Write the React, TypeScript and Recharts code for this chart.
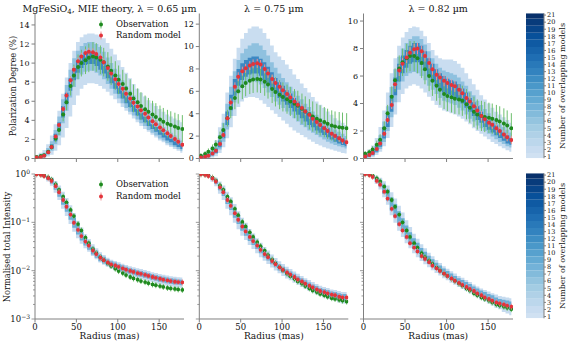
import { ComposedChart, Area, Bar, Line, XAxis, YAxis, ErrorBar, Legend } from "recharts";

const SERIF = '"DejaVu Serif", serif';
const AXIS = "#808080";
const INK = "#111";
const GREEN = "#1f8a1f";
const GREEN_BAR = "#6dbf6d";
const RED = "#e3343b";
const RED_BAR = "#f29095";
const BAND_TOP = ["#c9ddf0", "#8fc1df", "#3c88c3"];
const BAND_LOG = ["#c6dbef", "#6aaed6"];

// radius grid (mas)
const RADIUS = [2, 7, 11, 16, 20, 25, 29, 34, 38, 43, 47, 52, 56, 61, 65, 70, 74, 79, 83, 88, 92, 97, 101, 106, 110, 115, 119, 124, 128, 133, 137, 142, 146, 151, 155, 160, 164, 169, 173, 178];
const X_TICKS = [0, 50, 100, 150];

// polarization degree (%) -- lambda = 0.65
const POL065_OBS = [0.15, 0.25, 0.35, 0.7, 1.2, 2.1, 3.0, 4.6, 5.9, 7.6, 8.7, 9.6, 10.0, 10.3, 10.55, 10.7, 10.6, 10.35, 10.1, 9.65, 9.2, 8.7, 8.25, 7.8, 7.35, 6.8, 6.3, 5.9, 5.5, 5.15, 4.9, 4.6, 4.35, 4.1, 3.85, 3.65, 3.5, 3.35, 3.2, 3.1];
const POL065_OBS_ERR = [0.1, 0.1, 0.15, 0.2, 0.3, 0.4, 0.55, 0.7, 0.85, 1.0, 1.15, 1.3, 1.4, 1.45, 1.5, 1.5, 1.5, 1.5, 1.5, 1.5, 1.5, 1.5, 1.5, 1.5, 1.5, 1.5, 1.45, 1.45, 1.45, 1.45, 1.45, 1.45, 1.45, 1.45, 1.45, 1.45, 1.45, 1.45, 1.45, 1.45];
const POL065_MOD = [0.1, 0.15, 0.3, 0.65, 1.2, 2.3, 3.5, 5.2, 6.6, 8.2, 9.3, 10.2, 10.7, 11.05, 11.2, 11.15, 10.95, 10.6, 10.1, 9.5, 8.9, 8.3, 7.8, 7.3, 6.8, 6.3, 5.85, 5.45, 5.05, 4.7, 4.3, 3.9, 3.6, 3.25, 2.95, 2.65, 2.35, 2.05, 1.75, 1.45];
const POL065_OUT_LO = [0, 0, 0.05, 0.2, 0.4, 0.8, 1.4, 2.2, 3.2, 4.4, 5.6, 6.6, 7.3, 7.7, 7.9, 7.9, 7.8, 7.6, 7.3, 7.0, 6.6, 6.2, 5.8, 5.4, 5.0, 4.6, 4.2, 3.8, 3.4, 3.1, 2.8, 2.5, 2.2, 1.9, 1.7, 1.4, 1.2, 1.0, 0.8, 0.6];
const POL065_OUT_HI = [0.4, 0.6, 0.9, 1.5, 2.4, 3.6, 5.0, 6.8, 8.5, 10.0, 11.3, 12.2, 12.7, 13.0, 13.1, 13.1, 13.0, 12.9, 12.6, 12.1, 11.5, 10.9, 10.3, 9.6, 9.0, 8.4, 7.8, 7.3, 6.9, 6.5, 6.1, 5.8, 5.5, 5.2, 4.9, 4.6, 4.4, 4.2, 4.0, 3.8];
const POL065_MID_LO = [0.02, 0.05, 0.15, 0.4, 0.8, 1.5, 2.4, 3.7, 5.0, 6.4, 7.5, 8.3, 8.8, 9.1, 9.2, 9.2, 9.0, 8.7, 8.3, 7.8, 7.3, 6.8, 6.3, 5.8, 5.3, 4.9, 4.5, 4.1, 3.7, 3.4, 3.0, 2.7, 2.4, 2.1, 1.9, 1.6, 1.4, 1.2, 1.0, 0.8];
const POL065_MID_HI = [0.25, 0.4, 0.6, 1.1, 1.8, 3.0, 4.4, 6.2, 7.7, 9.3, 10.5, 11.3, 11.8, 12.1, 12.2, 12.2, 12.0, 11.7, 11.2, 10.6, 10.0, 9.4, 8.8, 8.2, 7.6, 7.1, 6.6, 6.1, 5.6, 5.2, 4.8, 4.4, 4.0, 3.7, 3.3, 3.0, 2.7, 2.4, 2.1, 1.9];
const POL065_CORE_LO = [0.05, 0.1, 0.2, 0.5, 1.0, 1.8, 2.9, 4.3, 5.7, 7.1, 8.2, 9.0, 9.5, 9.8, 9.9, 9.9, 9.7, 9.3, 8.9, 8.4, 7.9, 7.3, 6.8, 6.3, 5.8, 5.4, 4.9, 4.5, 4.1, 3.8, 3.4, 3.1, 2.8, 2.5, 2.2, 1.9, 1.7, 1.4, 1.2, 1.0];
const POL065_CORE_HI = [0.15, 0.25, 0.45, 0.85, 1.5, 2.6, 3.8, 5.5, 6.9, 8.4, 9.5, 10.3, 10.8, 11.1, 11.2, 11.1, 10.9, 10.5, 10.0, 9.4, 8.8, 8.2, 7.6, 7.1, 6.6, 6.1, 5.6, 5.2, 4.8, 4.4, 4.0, 3.6, 3.3, 3.0, 2.7, 2.4, 2.1, 1.9, 1.6, 1.4];

// lambda = 0.75
const POL075_OBS = [0.25, 0.4, 0.6, 0.9, 1.25, 1.9, 2.55, 3.6, 4.5, 5.4, 6.0, 6.45, 6.75, 6.95, 7.05, 7.1, 7.05, 6.85, 6.6, 6.2, 5.95, 5.7, 5.5, 5.3, 5.1, 4.9, 4.7, 4.45, 4.2, 3.95, 3.75, 3.55, 3.4, 3.25, 3.1, 2.95, 2.85, 2.8, 2.75, 2.7];
const POL075_OBS_ERR = [0.2, 0.25, 0.3, 0.35, 0.4, 0.5, 0.6, 0.75, 0.9, 1.0, 1.1, 1.15, 1.2, 1.2, 1.2, 1.2, 1.2, 1.25, 1.25, 1.25, 1.3, 1.3, 1.3, 1.3, 1.3, 1.3, 1.35, 1.35, 1.35, 1.35, 1.35, 1.35, 1.35, 1.35, 1.35, 1.35, 1.35, 1.35, 1.35, 1.35];
const POL075_MOD = [0.1, 0.15, 0.25, 0.45, 0.7, 1.3, 2.1, 3.6, 5.0, 6.4, 7.3, 7.8, 8.05, 8.3, 8.45, 8.5, 8.4, 8.0, 7.6, 7.1, 6.75, 6.4, 6.1, 5.75, 5.45, 5.1, 4.8, 4.5, 4.2, 3.9, 3.55, 3.25, 3.0, 2.7, 2.45, 2.2, 2.0, 1.8, 1.6, 1.45];
const POL075_OUT_LO = [0, 0, 0.02, 0.1, 0.2, 0.5, 1.0, 1.8, 2.8, 3.8, 4.6, 5.1, 5.4, 5.5, 5.5, 5.4, 5.2, 4.9, 4.6, 4.3, 4.0, 3.7, 3.4, 3.1, 2.8, 2.5, 2.3, 2.1, 1.9, 1.7, 1.5, 1.3, 1.15, 1.0, 0.9, 0.8, 0.7, 0.6, 0.5, 0.45];
const POL075_OUT_HI = [0.35, 0.5, 0.7, 1.1, 1.6, 2.8, 4.0, 5.9, 7.4, 8.9, 9.9, 10.7, 11.2, 11.6, 11.8, 11.8, 11.6, 11.2, 10.7, 10.1, 9.5, 9.1, 8.8, 8.4, 8.0, 7.5, 7.1, 6.7, 6.3, 5.9, 5.5, 5.1, 4.8, 4.5, 4.2, 3.9, 3.6, 3.4, 3.2, 3.0];
const POL075_MID_LO = [0.02, 0.05, 0.1, 0.2, 0.4, 0.8, 1.5, 2.6, 3.8, 5.0, 5.8, 6.3, 6.6, 6.8, 6.9, 6.8, 6.6, 6.3, 5.9, 5.5, 5.1, 4.8, 4.5, 4.2, 3.9, 3.6, 3.3, 3.0, 2.8, 2.5, 2.3, 2.1, 1.9, 1.7, 1.5, 1.35, 1.2, 1.1, 1.0, 0.9];
const POL075_MID_HI = [0.25, 0.35, 0.5, 0.8, 1.2, 2.1, 3.2, 4.9, 6.4, 7.8, 8.8, 9.4, 9.8, 10.1, 10.3, 10.3, 10.1, 9.7, 9.2, 8.6, 8.1, 7.6, 7.2, 6.8, 6.4, 6.0, 5.6, 5.3, 4.9, 4.6, 4.2, 3.9, 3.6, 3.3, 3.1, 2.8, 2.6, 2.4, 2.2, 2.0];
const POL075_CORE_LO = [0.05, 0.08, 0.15, 0.3, 0.5, 1.0, 1.8, 3.0, 4.3, 5.6, 6.5, 7.0, 7.3, 7.5, 7.6, 7.6, 7.4, 7.0, 6.6, 6.2, 5.8, 5.4, 5.1, 4.8, 4.5, 4.2, 3.9, 3.6, 3.3, 3.0, 2.8, 2.5, 2.3, 2.1, 1.9, 1.7, 1.5, 1.35, 1.2, 1.1];
const POL075_CORE_HI = [0.15, 0.25, 0.35, 0.6, 0.9, 1.6, 2.6, 4.2, 5.7, 7.1, 8.0, 8.5, 8.8, 9.0, 9.1, 9.1, 8.9, 8.6, 8.2, 7.7, 7.2, 6.8, 6.5, 6.1, 5.8, 5.4, 5.1, 4.7, 4.4, 4.1, 3.8, 3.5, 3.2, 2.9, 2.7, 2.4, 2.2, 2.0, 1.8, 1.6];

// lambda = 0.82
const POL082_OBS = [0.34, 0.45, 0.65, 1.0, 1.36, 2.2, 3.3, 4.5, 5.7, 6.55, 7.0, 7.3, 7.45, 7.45, 7.3, 6.95, 6.5, 6.0, 5.65, 5.3, 5.0, 4.7, 4.55, 4.45, 4.35, 4.3, 4.2, 3.95, 3.7, 3.4, 3.2, 3.1, 3.02, 2.96, 2.9, 2.8, 2.7, 2.55, 2.4, 2.2];
const POL082_OBS_ERR = [0.2, 0.2, 0.25, 0.3, 0.4, 0.5, 0.6, 0.75, 0.85, 0.95, 1.0, 1.05, 1.1, 1.1, 1.1, 1.1, 1.1, 1.1, 1.1, 1.1, 1.1, 1.1, 1.1, 1.1, 1.1, 1.1, 1.1, 1.1, 1.1, 1.1, 1.1, 1.1, 1.1, 1.1, 1.1, 1.1, 1.1, 1.1, 1.1, 1.1];
const POL082_MOD = [0.15, 0.25, 0.4, 0.7, 1.1, 1.8, 2.8, 3.9, 5.4, 6.4, 6.9, 7.35, 7.7, 7.95, 8.0, 7.8, 7.45, 6.95, 6.5, 6.1, 5.9, 5.65, 5.5, 5.35, 5.25, 5.0, 4.75, 4.4, 4.15, 3.8, 3.5, 3.1, 2.85, 2.6, 2.45, 2.2, 2.0, 1.75, 1.55, 1.35];
const POL082_OUT_LO = [0, 0.02, 0.1, 0.25, 0.5, 0.9, 1.5, 2.3, 3.2, 4.1, 4.7, 5.1, 5.3, 5.4, 5.3, 5.1, 4.8, 4.5, 4.2, 3.9, 3.7, 3.5, 3.4, 3.3, 3.2, 3.05, 2.9, 2.7, 2.5, 2.2, 2.0, 1.8, 1.6, 1.4, 1.2, 1.05, 0.9, 0.75, 0.6, 0.5];
const POL082_OUT_HI = [0.45, 0.65, 0.95, 1.5, 2.3, 3.5, 4.8, 6.2, 7.3, 8.2, 8.8, 9.2, 9.5, 9.6, 9.55, 9.3, 8.9, 8.4, 7.9, 7.5, 7.3, 7.2, 7.2, 7.2, 7.1, 6.9, 6.6, 6.2, 5.8, 5.4, 5.0, 4.6, 4.3, 4.0, 3.7, 3.4, 3.2, 3.0, 2.8, 2.6];
const POL082_MID_LO = [0.05, 0.1, 0.2, 0.4, 0.7, 1.2, 2.0, 3.0, 4.1, 5.0, 5.6, 6.0, 6.2, 6.3, 6.2, 6.0, 5.7, 5.3, 5.0, 4.7, 4.4, 4.2, 4.1, 4.0, 3.9, 3.7, 3.5, 3.2, 2.9, 2.7, 2.4, 2.2, 2.0, 1.8, 1.6, 1.4, 1.2, 1.05, 0.9, 0.8];
const POL082_MID_HI = [0.3, 0.45, 0.7, 1.1, 1.7, 2.7, 3.8, 5.2, 6.5, 7.4, 8.0, 8.4, 8.7, 8.9, 8.9, 8.7, 8.3, 7.8, 7.3, 6.9, 6.6, 6.4, 6.3, 6.2, 6.1, 5.9, 5.6, 5.3, 4.9, 4.6, 4.2, 3.9, 3.6, 3.3, 3.0, 2.8, 2.5, 2.3, 2.1, 1.9];
const POL082_CORE_LO = [0.08, 0.15, 0.28, 0.5, 0.85, 1.45, 2.3, 3.4, 4.6, 5.6, 6.2, 6.6, 6.9, 7.0, 7.0, 6.8, 6.4, 6.0, 5.6, 5.3, 5.0, 4.8, 4.7, 4.6, 4.4, 4.2, 4.0, 3.7, 3.4, 3.1, 2.8, 2.6, 2.3, 2.1, 1.9, 1.7, 1.5, 1.3, 1.1, 1.0];
const POL082_CORE_HI = [0.22, 0.35, 0.55, 0.9, 1.4, 2.3, 3.3, 4.6, 5.9, 6.9, 7.5, 7.9, 8.2, 8.4, 8.4, 8.2, 7.8, 7.3, 6.9, 6.5, 6.2, 6.0, 5.8, 5.7, 5.6, 5.4, 5.1, 4.8, 4.4, 4.1, 3.8, 3.4, 3.1, 2.8, 2.6, 2.4, 2.1, 1.9, 1.7, 1.5];

// random-model error, shared by the three polarization panels
const POL_MOD_ERR = [0.05, 0.05, 0.1, 0.1, 0.15, 0.2, 0.25, 0.3, 0.35, 0.4, 0.4, 0.4, 0.4, 0.4, 0.4, 0.4, 0.4, 0.4, 0.4, 0.4, 0.4, 0.4, 0.4, 0.4, 0.4, 0.4, 0.35, 0.35, 0.35, 0.35, 0.35, 0.35, 0.3, 0.3, 0.3, 0.3, 0.3, 0.3, 0.3, 0.3];

// normalised total intensity -- lambda = 0.65
const INT065_OBS = [0.99, 0.97, 0.93, 0.85, 0.76, 0.61, 0.47, 0.34, 0.26, 0.18, 0.135, 0.092, 0.068, 0.048, 0.037, 0.028, 0.023, 0.019, 0.0165, 0.0143, 0.0125, 0.011, 0.0098, 0.0089, 0.0081, 0.0074, 0.0069, 0.0065, 0.0061, 0.0058, 0.0055, 0.0052, 0.005, 0.0048, 0.0046, 0.0044, 0.0043, 0.0042, 0.0041, 0.004];
const INT065_MOD = [0.99, 0.96, 0.91, 0.82, 0.72, 0.56, 0.42, 0.29, 0.21, 0.145, 0.098, 0.07, 0.052, 0.04, 0.033, 0.026, 0.022, 0.0185, 0.0165, 0.0148, 0.0135, 0.0128, 0.012, 0.0112, 0.0105, 0.0099, 0.0094, 0.0089, 0.0086, 0.0082, 0.0078, 0.0074, 0.0071, 0.0068, 0.0065, 0.0063, 0.0061, 0.0059, 0.0058, 0.0057];
const INT065_OUT_LO = [0.97, 0.92, 0.84, 0.7, 0.57, 0.41, 0.29, 0.19, 0.135, 0.092, 0.064, 0.047, 0.036, 0.029, 0.0245, 0.02, 0.0172, 0.0148, 0.0133, 0.012, 0.011, 0.0102, 0.0096, 0.0089, 0.0083, 0.0078, 0.0074, 0.007, 0.0067, 0.0064, 0.0061, 0.0058, 0.0055, 0.0053, 0.0051, 0.0049, 0.0047, 0.0046, 0.0045, 0.0044];
const INT065_OUT_HI = [1.0, 1.0, 0.97, 0.92, 0.86, 0.72, 0.58, 0.43, 0.32, 0.225, 0.155, 0.108, 0.078, 0.057, 0.045, 0.035, 0.029, 0.024, 0.021, 0.0186, 0.0169, 0.0158, 0.0149, 0.0139, 0.0131, 0.0124, 0.0118, 0.0112, 0.0108, 0.0103, 0.0098, 0.0093, 0.0089, 0.0085, 0.0082, 0.0079, 0.0077, 0.0075, 0.0073, 0.0072];
const INT065_IN_LO = [0.98, 0.94, 0.87, 0.75, 0.63, 0.47, 0.34, 0.23, 0.165, 0.113, 0.077, 0.056, 0.042, 0.033, 0.027, 0.0216, 0.0185, 0.0157, 0.0141, 0.0127, 0.0117, 0.011, 0.0103, 0.0097, 0.0091, 0.0086, 0.0082, 0.0077, 0.0075, 0.0071, 0.0068, 0.0064, 0.0062, 0.0059, 0.0057, 0.0055, 0.0053, 0.0052, 0.0051, 0.005];
const INT065_IN_HI = [1.0, 0.99, 0.95, 0.89, 0.81, 0.66, 0.51, 0.36, 0.265, 0.185, 0.125, 0.088, 0.064, 0.049, 0.04, 0.0312, 0.026, 0.0217, 0.0193, 0.0172, 0.0156, 0.0147, 0.0138, 0.0129, 0.0121, 0.0114, 0.0108, 0.0102, 0.0098, 0.0094, 0.0089, 0.0085, 0.0081, 0.0078, 0.0075, 0.0072, 0.007, 0.0068, 0.0066, 0.0065];

// lambda = 0.75
const INT075_OBS = [0.99, 0.97, 0.93, 0.84, 0.73, 0.58, 0.47, 0.34, 0.27, 0.19, 0.14, 0.102, 0.082, 0.062, 0.05, 0.039, 0.032, 0.026, 0.021, 0.017, 0.0142, 0.0118, 0.0102, 0.0087, 0.0077, 0.0068, 0.006, 0.0054, 0.0048, 0.0043, 0.0039, 0.0036, 0.0033, 0.0031, 0.0029, 0.0027, 0.0026, 0.0025, 0.0024, 0.0023];
const INT075_MOD = [0.99, 0.96, 0.91, 0.81, 0.7, 0.53, 0.42, 0.29, 0.22, 0.155, 0.113, 0.082, 0.065, 0.05, 0.041, 0.033, 0.027, 0.022, 0.019, 0.0158, 0.0136, 0.0117, 0.0104, 0.0092, 0.0083, 0.0074, 0.0066, 0.006, 0.0054, 0.0049, 0.0045, 0.0041, 0.0038, 0.0036, 0.0034, 0.0032, 0.0031, 0.0029, 0.0028, 0.0028];
const INT075_OUT_LO = [0.97, 0.92, 0.84, 0.69, 0.56, 0.39, 0.29, 0.19, 0.14, 0.098, 0.072, 0.053, 0.043, 0.034, 0.028, 0.023, 0.019, 0.016, 0.0138, 0.0116, 0.0101, 0.0088, 0.0078, 0.0069, 0.0063, 0.0056, 0.0051, 0.0046, 0.0042, 0.0038, 0.0035, 0.0032, 0.003, 0.0028, 0.0026, 0.0025, 0.0024, 0.0022, 0.0021, 0.0021];
const INT075_OUT_HI = [1.0, 1.0, 0.97, 0.91, 0.84, 0.7, 0.58, 0.43, 0.33, 0.24, 0.17, 0.125, 0.098, 0.073, 0.059, 0.047, 0.038, 0.031, 0.026, 0.0215, 0.0183, 0.0156, 0.0137, 0.0121, 0.0108, 0.0096, 0.0086, 0.0078, 0.007, 0.0064, 0.0058, 0.0053, 0.0049, 0.0046, 0.0044, 0.0041, 0.004, 0.0038, 0.0036, 0.0036];
const INT075_IN_LO = [0.98, 0.94, 0.88, 0.75, 0.62, 0.46, 0.35, 0.24, 0.18, 0.125, 0.092, 0.067, 0.053, 0.041, 0.034, 0.028, 0.023, 0.0188, 0.0162, 0.0135, 0.0117, 0.0101, 0.0089, 0.0079, 0.0071, 0.0064, 0.0057, 0.0052, 0.0047, 0.0042, 0.0039, 0.0035, 0.0033, 0.0031, 0.0029, 0.0028, 0.0027, 0.0025, 0.0024, 0.0024];
const INT075_IN_HI = [1.0, 0.99, 0.95, 0.87, 0.78, 0.61, 0.5, 0.35, 0.27, 0.19, 0.138, 0.1, 0.079, 0.061, 0.049, 0.039, 0.032, 0.0258, 0.0222, 0.0185, 0.0158, 0.0136, 0.0121, 0.0107, 0.0096, 0.0086, 0.0077, 0.007, 0.0063, 0.0057, 0.0052, 0.0048, 0.0044, 0.0042, 0.004, 0.0037, 0.0036, 0.0034, 0.0033, 0.0033];

// lambda = 0.82
const INT082_OBS = [0.995, 0.97, 0.92, 0.81, 0.7, 0.55, 0.43, 0.29, 0.21, 0.145, 0.1, 0.068, 0.05, 0.037, 0.03, 0.023, 0.019, 0.0162, 0.0138, 0.0116, 0.0101, 0.0087, 0.0078, 0.0068, 0.0061, 0.0054, 0.0049, 0.0043, 0.0039, 0.0034, 0.0031, 0.0028, 0.0026, 0.0024, 0.0022, 0.002, 0.0019, 0.0018, 0.0017, 0.0016];
const INT082_MOD = [0.99, 0.95, 0.87, 0.72, 0.6, 0.43, 0.31, 0.19, 0.135, 0.092, 0.068, 0.05, 0.037, 0.03, 0.025, 0.02, 0.0175, 0.015, 0.0127, 0.0112, 0.0099, 0.0087, 0.0078, 0.0069, 0.0062, 0.0056, 0.0051, 0.0046, 0.0042, 0.0038, 0.0034, 0.0031, 0.0028, 0.0026, 0.0024, 0.0022, 0.0021, 0.002, 0.0019, 0.0018];
const INT082_OUT_LO = [0.97, 0.91, 0.8, 0.62, 0.48, 0.33, 0.23, 0.14, 0.098, 0.067, 0.05, 0.037, 0.029, 0.023, 0.019, 0.0158, 0.0136, 0.0118, 0.0102, 0.0089, 0.0079, 0.007, 0.0063, 0.0056, 0.0051, 0.0046, 0.0042, 0.0038, 0.0034, 0.0031, 0.0028, 0.0025, 0.0023, 0.0021, 0.0019, 0.0017, 0.0016, 0.0014, 0.0013, 0.0012];
const INT082_OUT_HI = [1.0, 1.0, 0.98, 0.92, 0.84, 0.71, 0.58, 0.42, 0.31, 0.22, 0.16, 0.11, 0.08, 0.058, 0.046, 0.035, 0.029, 0.0235, 0.0198, 0.0166, 0.0144, 0.0124, 0.011, 0.0097, 0.0087, 0.0078, 0.0071, 0.0064, 0.0058, 0.0052, 0.0047, 0.0043, 0.004, 0.0037, 0.0034, 0.0032, 0.003, 0.0029, 0.0028, 0.0027];
const INT082_IN_LO = [0.98, 0.93, 0.84, 0.68, 0.55, 0.39, 0.28, 0.175, 0.125, 0.085, 0.063, 0.046, 0.035, 0.028, 0.023, 0.0185, 0.016, 0.0137, 0.0118, 0.0103, 0.0091, 0.008, 0.0072, 0.0064, 0.0058, 0.0052, 0.0047, 0.0042, 0.0038, 0.0034, 0.0031, 0.0028, 0.0026, 0.0024, 0.0022, 0.002, 0.0019, 0.0018, 0.0017, 0.0016];
const INT082_IN_HI = [1.0, 0.99, 0.95, 0.86, 0.76, 0.61, 0.48, 0.33, 0.24, 0.17, 0.122, 0.086, 0.062, 0.047, 0.038, 0.0295, 0.0245, 0.0203, 0.0172, 0.0146, 0.0128, 0.0111, 0.0099, 0.0087, 0.0078, 0.007, 0.0064, 0.0058, 0.0053, 0.0047, 0.0043, 0.0039, 0.0036, 0.0033, 0.0031, 0.0028, 0.0026, 0.0025, 0.0024, 0.0023];

const LOG_TICKS = [0.001, 0.002, 0.003, 0.004, 0.005, 0.006, 0.007, 0.008, 0.009, 0.01, 0.02, 0.03, 0.04, 0.05, 0.06, 0.07, 0.08, 0.09, 0.1, 0.2, 0.3, 0.4, 0.5, 0.6, 0.7, 0.8, 0.9, 1];
const LEVELS = [1, 2, 3, 4, 5, 6, 7, 8, 9, 10, 11, 12, 13, 14, 15, 16, 17, 18, 19, 20, 21];

const BLUES = ["#f7fbff", "#deebf7", "#c6dbef", "#9ecae1", "#6baed6", "#4292c6", "#2171b5", "#08519c", "#08306b"];
function blues(t: number) {
  const s = Math.min(0.9999, Math.max(0, t)) * 8;
  const i = Math.floor(s);
  const f = s - i;
  const a = BLUES[i], b = BLUES[i + 1];
  const ch = (h: string, k: number) => parseInt(h.slice(1 + 2 * k, 3 + 2 * k), 16);
  const mix = [0, 1, 2].map((k) => Math.round(ch(a, k) + (ch(b, k) - ch(a, k)) * f));
  return `rgb(${mix.join(",")})`;
}

const tickStyle = { fontSize: 8, fill: INK, fontFamily: SERIF };
const xTickStyle = { fontSize: 8.5, fill: INK, fontFamily: SERIF };

const LEGEND_ITEMS = [
  { label: "Observation", color: GREEN, bar: GREEN_BAR },
  { label: "Random model", color: RED, bar: RED_BAR },
];

function LegendBox() {
  return (
    <div style={{ fontFamily: SERIF, fontSize: 8.5, lineHeight: "11.5px", color: INK }}>
      {LEGEND_ITEMS.map((it) => (
        <div key={it.label} style={{ display: "flex", alignItems: "center", height: 11.5 }}>
          <svg width={16} height={11} style={{ flex: "none" }}>
            <line x1={3} x2={3} y1={1.5} y2={9.5} stroke={it.bar} strokeWidth={1} />
            <circle cx={3} cy={5.5} r={2} fill={it.color} />
          </svg>
          <span style={{ marginLeft: 2, whiteSpace: "nowrap" }}>{it.label}</span>
        </div>
      ))}
    </div>
  );
}

function LogTick(props: any) {
  const { x, y, payload, showLabel } = props;
  const v = payload.value;
  const lg = Math.log10(v);
  const exp = Math.round(lg);
  const major = Math.abs(lg - exp) < 1e-6;
  const len = major ? 3.5 : 2;
  return (
    <g>
      <line x1={x} x2={x - len} y1={y} y2={y} stroke={AXIS} strokeWidth={0.8} />
      {major && showLabel && (
        <text x={x - 5} y={y} dy={3} textAnchor="end" fontSize={8.5} fontFamily={SERIF} fill={INK}>
          10
          <tspan dy={-3.5} fontSize={6}>
            {exp === 0 ? "0" : "\u2212" + Math.abs(exp)}
          </tspan>
        </text>
      )}
    </g>
  );
}

type PolProps = {
  left: number;
  yAxisW: number;
  plotW: number;
  obs: number[];
  obsErr: number[];
  mod: number[];
  bands: number[][];
  yMax: number;
  yTicks: number[];
  legend?: boolean;
};

function PolPanel({ left, yAxisW, plotW, obs, obsErr, mod, bands, yMax, yTicks, legend }: PolProps) {
  const rows = RADIUS.map((r, i) => ({
    r,
    obs: obs[i],
    obsErr: obsErr[i],
    mod: mod[i],
    modErr: POL_MOD_ERR[i],
    b0: [bands[0][i], bands[1][i]],
    b1: [bands[2][i], bands[3][i]],
    b2: [bands[4][i], bands[5][i]],
  }));
  return (
    <div style={{ position: "absolute", left, top: 0 }}>
      <ComposedChart width={yAxisW + plotW + 5} height={172} data={rows} margin={{ top: 13.5, right: 5, bottom: 0, left: 0 }}>
        <XAxis dataKey="r" type="number" domain={[0, 180]} ticks={X_TICKS} height={13.5} tickSize={3.5} stroke={AXIS} tickFormatter={() => ""} allowDataOverflow />
        <XAxis xAxisId="top" orientation="top" dataKey="r" type="number" domain={[0, 180]} height={0} tick={false} tickLine={false} stroke={AXIS} />
        <YAxis type="number" domain={[0, yMax]} ticks={yTicks} interval={0} width={yAxisW} tickSize={3.5} tickMargin={2} stroke={AXIS} tick={tickStyle} allowDataOverflow />
        <YAxis yAxisId="right" orientation="right" type="number" domain={[0, yMax]} width={0} tick={false} tickLine={false} stroke={AXIS} />
        {["b0", "b1", "b2"].map((k, j) => (
          <Area key={k} dataKey={k} type="step" stroke="none" fill={BAND_TOP[j]} fillOpacity={1} isAnimationActive={false} dot={false} activeDot={false} />
        ))}
        <Line dataKey="obs" stroke="none" isAnimationActive={false} dot={{ r: 2, fill: GREEN, stroke: "none" }} activeDot={false}>
          <ErrorBar dataKey="obsErr" width={0} stroke={GREEN_BAR} strokeWidth={1} direction="y" />
        </Line>
        <Line dataKey="mod" stroke="none" isAnimationActive={false} dot={{ r: 2, fill: RED, stroke: "none" }} activeDot={false}>
          <ErrorBar dataKey="modErr" width={0} stroke={RED_BAR} strokeWidth={1} direction="y" />
        </Line>
        {legend && (
          <Legend layout="vertical" align="center" verticalAlign="middle" content={() => <LegendBox />} wrapperStyle={{ left: 98, top: 18.5, width: 90 }} />
        )}
      </ComposedChart>
    </div>
  );
}

type IntProps = {
  left: number;
  yAxisW: number;
  plotW: number;
  obs: number[];
  mod: number[];
  bands: number[][];
  labels?: boolean;
  legend?: boolean;
};

function markerDot(color: string, bar: string) {
  return (p: any) => (
    <g key={`${color}-${p.index}`}>
      <line x1={p.cx} x2={p.cx} y1={p.cy - 3} y2={p.cy + 3} stroke={bar} strokeWidth={1} />
      <circle cx={p.cx} cy={p.cy} r={1.9} fill={color} />
    </g>
  );
}

function IntPanel({ left, yAxisW, plotW, obs, mod, bands, labels, legend }: IntProps) {
  const rows = RADIUS.map((r, i) => ({
    r,
    obs: obs[i],
    mod: mod[i],
    b0: [bands[0][i], bands[1][i]],
    b1: [bands[2][i], bands[3][i]],
  }));
  return (
    <div style={{ position: "absolute", left, top: 165 }}>
      <ComposedChart width={yAxisW + plotW + 5} height={178} data={rows} margin={{ top: 9, right: 5, bottom: 0, left: 0 }}>
        <XAxis dataKey="r" type="number" domain={[0, 180]} ticks={X_TICKS} height={24} tickSize={3.5} tickMargin={1} stroke={AXIS} tick={xTickStyle} allowDataOverflow />
        <XAxis xAxisId="top" orientation="top" dataKey="r" type="number" domain={[0, 180]} height={0} tick={false} tickLine={false} stroke={AXIS} />
        <YAxis type="number" scale="log" domain={[0.001, 1]} ticks={LOG_TICKS} interval={0} width={yAxisW} tickSize={0} tickMargin={0} tickLine={false} stroke={AXIS} tick={<LogTick showLabel={labels} />} allowDataOverflow />
        <YAxis yAxisId="right" orientation="right" type="number" scale="log" domain={[0.001, 1]} width={0} tick={false} tickLine={false} stroke={AXIS} />
        {["b0", "b1"].map((k, j) => (
          <Area key={k} dataKey={k} type="step" stroke="none" fill={BAND_LOG[j]} fillOpacity={1} isAnimationActive={false} dot={false} activeDot={false} />
        ))}
        <Line dataKey="obs" stroke="none" isAnimationActive={false} dot={markerDot(GREEN, GREEN_BAR)} activeDot={false} />
        <Line dataKey="mod" stroke="none" isAnimationActive={false} dot={markerDot(RED, RED_BAR)} activeDot={false} />
        {legend && (
          <Legend layout="vertical" align="center" verticalAlign="middle" content={() => <LegendBox />} wrapperStyle={{ left: 98, top: 14, width: 90 }} />
        )}
      </ComposedChart>
    </div>
  );
}

// colour bar: a single stacked column, one segment per level
const CB_ROW = [Object.fromEntries([["x", "cb"], ["base", 0.75], ...LEVELS.map((l) => [`l${l}`, l === 1 || l === 21 ? 0.75 : 1])])];

function ColorBar({ top, height, marginTop }: { top: number; height: number; marginTop: number }) {
  return (
    <div style={{ position: "absolute", left: 520, top }}>
      <ComposedChart width={51} height={height} data={CB_ROW} margin={{ top: marginTop, right: 0, bottom: height - marginTop - 145, left: 6 }} barCategoryGap={0} barGap={0}>
        <XAxis dataKey="x" type="category" hide />
        <XAxis xAxisId="top" dataKey="x" type="category" orientation="top" height={0} tick={false} tickLine={false} stroke={AXIS} />
        <YAxis orientation="right" type="number" domain={[0.75, 21.25]} ticks={LEVELS} interval={0} width={27} tickSize={2} tickMargin={1} stroke={AXIS} tick={{ fontSize: 6.5, fill: INK, fontFamily: SERIF }} allowDataOverflow />
        <YAxis yAxisId="left" orientation="left" type="number" domain={[0.75, 21.25]} width={0} tick={false} tickLine={false} stroke={AXIS} />
        <Bar dataKey="base" stackId="cb" fill="none" isAnimationActive={false} />
        {LEVELS.map((l) => (
          <Bar key={l} dataKey={`l${l}`} stackId="cb" fill={blues(0.2 + (0.8 * (l - 1)) / 20)} isAnimationActive={false} />
        ))}
      </ComposedChart>
    </div>
  );
}

const rotLabel = (left: number, top: number, size: number): React.CSSProperties => ({
  position: "absolute",
  left,
  top,
  transform: "translate(-50%, -50%) rotate(-90deg)",
  whiteSpace: "nowrap",
  fontSize: size,
  fontFamily: SERIF,
  color: INK,
});

const centered = (left: number, top: number, size: number): React.CSSProperties => ({
  position: "absolute",
  left,
  top,
  transform: "translate(-50%, -50%)",
  whiteSpace: "nowrap",
  fontSize: size,
  fontFamily: SERIF,
  color: INK,
});

export default function App() {
  return (
    <div style={{ position: "absolute", left: 0, top: 0, width: 571, height: 343, background: "#fff", overflow: "hidden", fontFamily: SERIF }}>
      <PolPanel left={0} yAxisW={35} plotW={149} obs={POL065_OBS} obsErr={POL065_OBS_ERR} mod={POL065_MOD}
        bands={[POL065_OUT_LO, POL065_OUT_HI, POL065_MID_LO, POL065_MID_HI, POL065_CORE_LO, POL065_CORE_HI]}
        yMax={15.2} yTicks={[0, 2, 4, 6, 8, 10, 12, 14]} legend />
      <PolPanel left={180} yAxisW={19.3} plotW={149} obs={POL075_OBS} obsErr={POL075_OBS_ERR} mod={POL075_MOD}
        bands={[POL075_OUT_LO, POL075_OUT_HI, POL075_MID_LO, POL075_MID_HI, POL075_CORE_LO, POL075_CORE_HI]}
        yMax={12.95} yTicks={[0, 2, 4, 6, 8, 10, 12]} />
      <PolPanel left={344} yAxisW={19.5} plotW={149.5} obs={POL082_OBS} obsErr={POL082_OBS_ERR} mod={POL082_MOD}
        bands={[POL082_OUT_LO, POL082_OUT_HI, POL082_MID_LO, POL082_MID_HI, POL082_CORE_LO, POL082_CORE_HI]}
        yMax={10.55} yTicks={[0, 2, 4, 6, 8, 10]} />

      <IntPanel left={0} yAxisW={35} plotW={149} obs={INT065_OBS} mod={INT065_MOD}
        bands={[INT065_OUT_LO, INT065_OUT_HI, INT065_IN_LO, INT065_IN_HI]} labels legend />
      <IntPanel left={180} yAxisW={19.3} plotW={149} obs={INT075_OBS} mod={INT075_MOD}
        bands={[INT075_OUT_LO, INT075_OUT_HI, INT075_IN_LO, INT075_IN_HI]} />
      <IntPanel left={344} yAxisW={19.5} plotW={149.5} obs={INT082_OBS} mod={INT082_MOD}
        bands={[INT082_OUT_LO, INT082_OUT_HI, INT082_IN_LO, INT082_IN_HI]} />

      <ColorBar top={0} height={172} marginTop={13.3} />
      <ColorBar top={165} height={178} marginTop={8.3} />

      <div style={centered(109.5, 7.5, 9.5)}>
        MgFeSiO<span style={{ fontSize: 7, position: "relative", top: 2 }}>4</span>, MIE theory, λ = 0.65 µm
      </div>
      <div style={centered(273.8, 7.5, 9.5)}>λ = 0.75 µm</div>
      <div style={centered(438.2, 7.5, 9.5)}>λ = 0.82 µm</div>

      <div style={rotLabel(13, 86, 8.3)}>Polarization Degree (%)</div>
      <div style={rotLabel(7, 246.5, 8.3)}>Normalised total Intensity</div>
      <div style={rotLabel(562, 86, 8)}>Number of overlapping models</div>
      <div style={rotLabel(562, 246, 8)}>Number of overlapping models</div>

      <div style={centered(109.5, 336, 9)}>Radius (mas)</div>
      <div style={centered(273.8, 336, 9)}>Radius (mas)</div>
      <div style={centered(438.2, 336, 9)}>Radius (mas)</div>
    </div>
  );
}
